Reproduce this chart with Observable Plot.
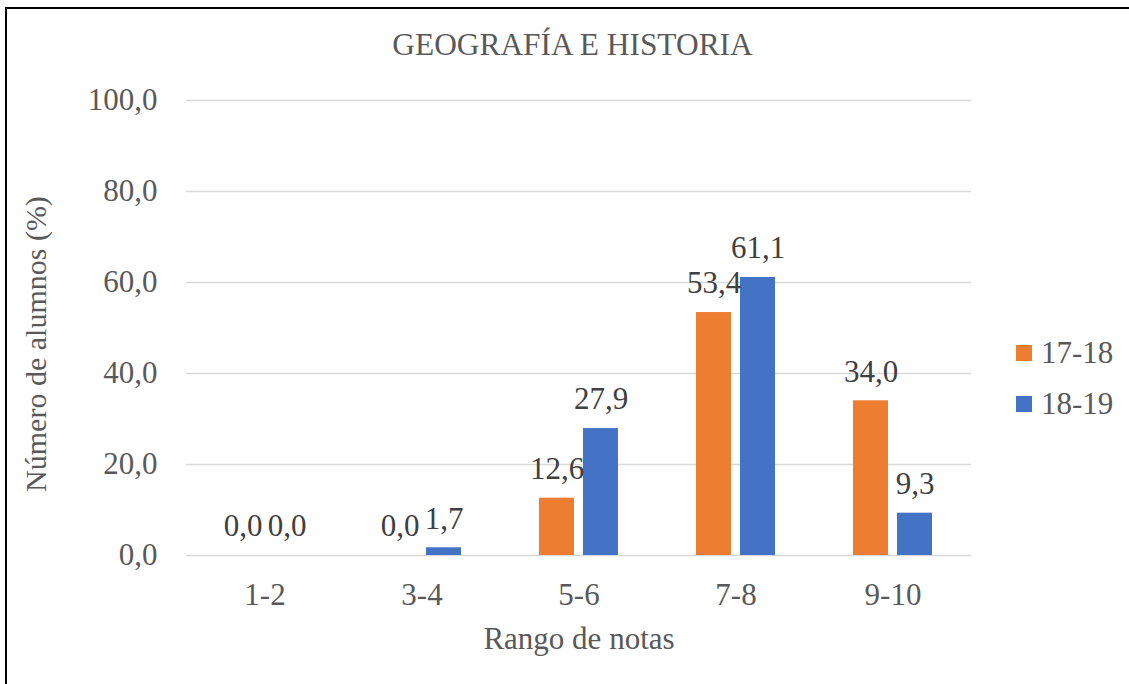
<!DOCTYPE html>
<html>
<head>
<meta charset="utf-8">
<script src="https://cdn.jsdelivr.net/npm/d3@7"></script>
<script src="https://cdn.jsdelivr.net/npm/@observablehq/plot@0.6"></script>
<style>
  html, body { margin: 0; padding: 0; background: #fff; overflow: hidden; }
  #wrap { position: relative; width: 1129px; height: 684px; font-family: "Liberation Serif", "Times New Roman", serif; color: #595959; }
  #chart { position: absolute; left: 0; top: 0; }
  #chart svg, #chart svg text { font-family: "Liberation Serif", "Times New Roman", serif !important; }
  #title { position: absolute; left: 272.5px; width: 600px; top: 29px; text-align: center; font-size: 31.4px; line-height: 31px; white-space: nowrap; }
  #ylabel { position: absolute; left: 36px; top: 344px; width: 400px; text-align: center; font-size: 30px; line-height: 30px; white-space: nowrap; transform: translate(-50%, -50%) rotate(-90deg); }
  #legend { position: absolute; left: 1016px; top: 338px; display: flex; flex-direction: column; gap: 21px; }
  .item { display: flex; align-items: center; height: 30px; font-size: 31px; line-height: 30px; white-space: nowrap; }
  .sw { width: 16px; height: 16px; margin-right: 9px; }
  #border { position: absolute; left: 5px; top: 7px; width: 1300px; height: 900px; border: 2px solid #000; pointer-events: none; }
</style>
</head>
<body>
<div id="wrap">
  <div id="chart"></div>
  <div id="title"></div>
  <div id="ylabel"></div>
  <div id="legend"></div>
  <div id="border"></div>
</div>
<script>
const chartTitle = "GEOGRAFÍA E HISTORIA";
const yLabel = "Número de alumnos (%)";
const xLabel = "Rango de notas";
const categories = ["1-2", "3-4", "5-6", "7-8", "9-10"];
const seriesNames = ["17-18", "18-19"];
const values1718 = [0.0, 0.0, 12.6, 53.4, 34.0];
const values1819 = [0.0, 1.7, 27.9, 61.1, 9.3];
const seriesColors = ["#ED7D31", "#4472C4"];
const yTicks = [0, 20, 40, 60, 80, 100];

const rows = categories.flatMap((c, i) => [
  {cat: c, series: seriesNames[0], value: values1718[i]},
  {cat: c, series: seriesNames[1], value: values1819[i]}
]);

const fmt = v => v.toFixed(1).replace(".", ",");
const FONT = "Liberation Serif";

const plot = Plot.plot({
  width: 1129,
  height: 684,
  marginTop: 100,
  marginBottom: 129,
  marginLeft: 184,
  marginRight: 157,
  style: "font-family: 'Liberation Serif', serif; font-size: 31px; color: #595959; background: transparent;",
  fx: {domain: categories, padding: 0, label: xLabel},
  x: {domain: seriesNames, paddingInner: 0.211, paddingOuter: 0.857, axis: null},
  y: {domain: [0, 100]},
  color: {domain: seriesNames, range: seriesColors},
  marks: [
    Plot.gridY(yTicks, {stroke: "#d9d9d9", strokeOpacity: 1, strokeWidth: 1.5}),
    Plot.axisY(yTicks, {tickSize: 0, tickPadding: 29, tickFormat: fmt, label: null, fontSize: 31, fontFamily: FONT}),
    Plot.axisFx({anchor: "bottom", tickSize: 0, tickPadding: 27, fontSize: 31, fontFamily: FONT, label: xLabel, labelAnchor: "center", labelOffset: 93}),
    Plot.barY(rows, {fx: "cat", x: "series", y: "value", fill: "series"}),
    Plot.text(rows, {fx: "cat", x: "series", y: "value", text: d => fmt(d.value), dy: -29, fill: "#404040", fontSize: 31, fontFamily: FONT})
  ]
});
document.getElementById("chart").appendChild(plot);
document.getElementById("title").textContent = chartTitle;
document.getElementById("ylabel").textContent = yLabel;
const legend = document.getElementById("legend");
seriesNames.forEach((s, i) => {
  const item = document.createElement("div");
  item.className = "item";
  const sw = document.createElement("div");
  sw.className = "sw";
  sw.style.background = seriesColors[i];
  const t = document.createElement("span");
  t.textContent = s;
  item.appendChild(sw);
  item.appendChild(t);
  legend.appendChild(item);
});
</script>
</body>
</html>
